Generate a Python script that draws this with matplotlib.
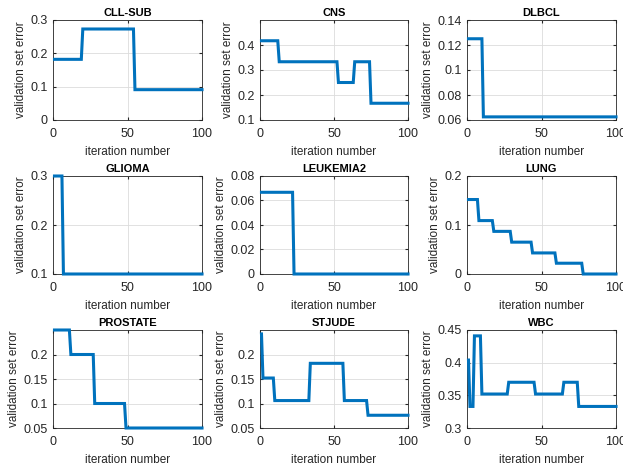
import matplotlib.pyplot as plt
import numpy as np

plt.rcParams['font.family'] = ['Liberation Sans', 'DejaVu Sans']

# each dataset: iteration breakpoints and validation set error at those points
names = ['CLL-SUB', 'CNS', 'DLBCL', 'GLIOMA', 'LEUKEMIA2', 'LUNG',
         'PROSTATE', 'STJUDE', 'WBC']

cll_x = [1, 19, 20, 54, 55, 100]
cll_y = [0.182, 0.182, 0.273, 0.273, 0.091, 0.091]

cns_x = [1, 12, 13, 52, 53, 63, 64, 74, 75, 100]
cns_y = [0.417, 0.417, 0.333, 0.333, 0.25, 0.25, 0.333, 0.333, 0.167, 0.167]

dlbcl_x = [1, 10, 11, 100]
dlbcl_y = [0.125, 0.125, 0.0625, 0.0625]

glioma_x = [1, 6, 7, 100]
glioma_y = [0.3, 0.3, 0.1, 0.1]

leuk_x = [1, 22, 23, 100]
leuk_y = [0.0667, 0.0667, 0.0, 0.0]

lung_x = [1, 7, 8, 17, 18, 29, 30, 43, 44, 59, 60, 77, 78, 100]
lung_y = [0.152, 0.152, 0.109, 0.109, 0.087, 0.087, 0.065, 0.065,
          0.043, 0.043, 0.022, 0.022, 0.0, 0.0]

prostate_x = [1, 11, 12, 27, 28, 48, 49, 100]
prostate_y = [0.25, 0.25, 0.2, 0.2, 0.1, 0.1, 0.05, 0.05]

stjude_x = [1, 2, 9, 10, 33, 34, 56, 57, 72, 73, 100]
stjude_y = [0.242, 0.152, 0.152, 0.106, 0.106, 0.182, 0.182,
            0.106, 0.106, 0.076, 0.076]

wbc_x = [1, 2, 4, 5, 9, 10, 27, 28, 45, 46, 64, 65, 74, 75, 100]
wbc_y = [0.404, 0.333, 0.333, 0.441, 0.441, 0.352, 0.352, 0.370,
         0.370, 0.352, 0.352, 0.370, 0.370, 0.333, 0.333]

xs = [cll_x, cns_x, dlbcl_x, glioma_x, leuk_x, lung_x, prostate_x, stjude_x, wbc_x]
ys = [cll_y, cns_y, dlbcl_y, glioma_y, leuk_y, lung_y, prostate_y, stjude_y, wbc_y]

ylims = [(0, 0.3), (0.1, 0.5), (0.06, 0.14), (0.1, 0.3), (0, 0.08),
         (0, 0.2), (0.05, 0.25), (0.05, 0.25), (0.3, 0.45)]
yticks = [[0, 0.1, 0.2, 0.3], [0.1, 0.2, 0.3, 0.4], [0.06, 0.08, 0.1, 0.12, 0.14],
          [0.1, 0.2, 0.3], [0, 0.02, 0.04, 0.06, 0.08], [0, 0.1, 0.2],
          [0.05, 0.1, 0.15, 0.2], [0.05, 0.1, 0.15, 0.2], [0.3, 0.35, 0.4, 0.45]]
yticklabels = [['0', '0.1', '0.2', '0.3'], ['0.1', '0.2', '0.3', '0.4'],
               ['0.06', '0.08', '0.1', '0.12', '0.14'], ['0.1', '0.2', '0.3'],
               ['0', '0.02', '0.04', '0.06', '0.08'], ['0', '0.1', '0.2'],
               ['0.05', '0.1', '0.15', '0.2'], ['0.05', '0.1', '0.15', '0.2'],
               ['0.3', '0.35', '0.4', '0.45']]

W, H = 623, 469
fig = plt.figure(figsize=(W / 100, H / 100), dpi=100)

lefts = [53, 260, 467]
widths = [149, 148, 149]
tops = [20, 176, 330]
heights = [100, 98, 98]

for i in range(9):
    r, c = divmod(i, 3)
    ax = fig.add_axes([lefts[c] / W, 1 - (tops[r] + heights[r]) / H,
                       widths[c] / W, heights[r] / H])
    ax.plot(xs[i], ys[i], color='#0072BD', linewidth=2.2,
            solid_joinstyle='miter', clip_on=False, zorder=3)
    ax.set_xlim(0, 100)
    ax.set_ylim(*ylims[i])
    ax.set_xticks([0, 50, 100])
    ax.set_yticks(yticks[i])
    ax.set_yticklabels(yticklabels[i])
    ax.grid(True, color='#dcdcdc', linewidth=0.6)
    ax.set_axisbelow(True)
    ax.tick_params(direction='in', length=2, labelsize=9, colors='#262626',
                   top=True, right=True, pad=4)
    ax.tick_params(axis='x', pad=6)
    for s in ax.spines.values():
        s.set_color('#262626')
        s.set_linewidth(0.6)
    ax.set_title(names[i], fontsize=8, fontweight='bold', pad=3)
    ax.set_xlabel('iteration number', fontsize=8.5, color='#262626', labelpad=4)
    ax.set_ylabel('validation set error', fontsize=8.5, color='#262626', labelpad=2)

fig.savefig('out.png', dpi=100)
